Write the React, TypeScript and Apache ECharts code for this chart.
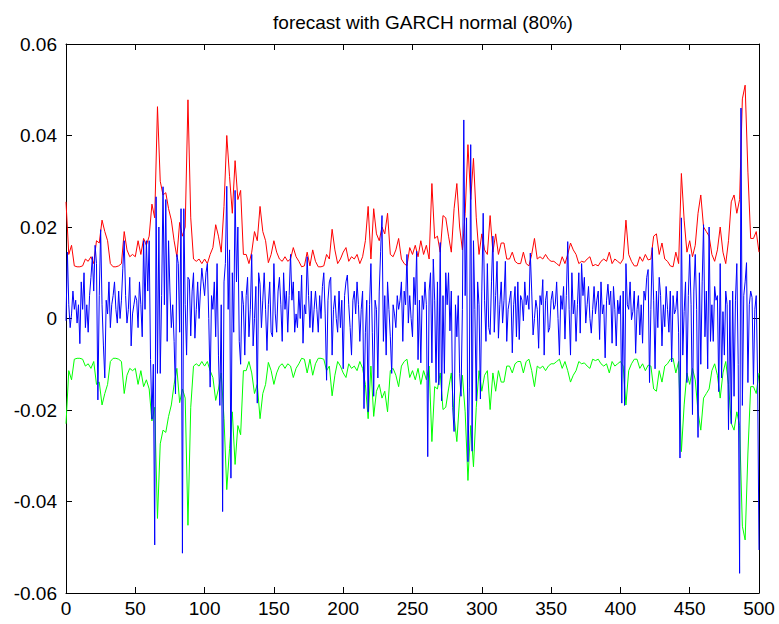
import React, { useEffect, useRef } from "react";
import * as echarts from "echarts";

// All values are in units of 0.001
// Upper 80% band (red), sampled at t = 0, 2, 4, ..., 500
const upperBand = [
  25.5, 14, 16, 11.5, 11.3, 11.3, 11.5, 13, 12.5, 13.5,
  12, 17, 16.5, 21.5, 19, 17, 12, 11.3, 11.3, 11.5,
  12, 19, 15, 13.5, 14, 13.5, 17, 14, 17.5, 16,
  18, 25, 22, 46.3, 30, 27, 27.5, 24, 21.5, 17,
  13.5, 21, 18, 20, 47.8, 22, 13, 12.5, 13, 12,
  13, 12, 14, 15.5, 20.5, 18, 14.5, 24.5, 40, 31,
  23, 34.5, 26, 28, 14, 14, 12, 14.5, 19, 17,
  24.5, 19, 17, 12.2, 14, 17, 14.5, 13, 12.5, 13.5,
  12.5, 13, 15.5, 13.5, 12.5, 11.3, 11.5, 14.5, 11.5, 15,
  12.5, 11.3, 11.3, 11.5, 14, 13, 19.5, 15, 12, 13,
  14.5, 15.5, 12.5, 13.5, 13, 14, 12, 13.5, 17, 24.5,
  13, 24, 18.5, 17, 20, 18.5, 23, 14, 13.5, 15,
  17.5, 13, 12, 11.5, 15.5, 14, 16, 13.5, 17, 14,
  16, 13, 29.5, 17.5, 18, 14.5, 22.5, 22, 18, 14.5,
  24, 29.5, 20, 15, 23, 38, 26, 35, 22, 14,
  18.5, 15, 14, 22.5, 14.5, 18.5, 14, 16.5, 16.5, 13,
  13, 14.5, 12.5, 12, 12, 14.5, 12, 11.5, 14, 17.5,
  13, 13.5, 13, 14, 13, 12.5, 12.5, 12, 11.5, 13.5,
  12, 14, 16.5, 15, 14, 12, 12.5, 12.3, 13, 13.5,
  11.5, 11.8, 11.5, 12.5, 13, 12.5, 14.5, 12, 13, 12.5,
  12, 13, 21.5, 14, 12.5, 11.5, 11.5, 13.5, 12.5, 14,
  12.8, 13, 18, 18.5, 14, 16.5, 13, 12.5, 11.5, 11.3,
  14.5, 12, 31.7, 21.5, 14.5, 17, 13.5, 16, 23, 27,
  20, 19, 18, 14, 12.5, 15, 20, 14.5, 12, 17,
  25.5, 27, 23, 26, 48, 51, 32, 17.5, 17.5, 19,
  14.5,
];

// Lower 80% band (green), sampled at t = 0, 2, 4, ..., 500
const lowerBand = [
  -23, -11.4, -13.4, -8.9, -8.7, -8.7, -8.9, -10.4, -9.9, -10.9,
  -9.4, -14.4, -13.9, -18.9, -16.4, -14.4, -9.4, -8.7, -8.7, -8.9,
  -9.4, -16.4, -12.4, -10.9, -11.4, -10.9, -14.4, -11.4, -14.9, -13.4,
  -15.4, -22.4, -19.4, -43.7, -27.4, -24.4, -24.9, -21.4, -18.9, -14.4,
  -10.9, -18.4, -15.4, -17.4, -45.2, -19.4, -10.4, -9.9, -10.4, -9.4,
  -10.4, -9.4, -11.4, -12.9, -17.9, -15.4, -11.9, -21.9, -37.4, -28.4,
  -20.4, -31.9, -23.4, -25.4, -11.4, -11.4, -9.4, -11.9, -16.4, -14.4,
  -21.9, -16.4, -14.4, -9.6, -11.4, -14.4, -11.9, -10.4, -9.9, -10.9,
  -9.9, -10.4, -12.9, -10.9, -9.9, -8.7, -8.9, -11.9, -8.9, -12.4,
  -9.9, -8.7, -8.7, -8.9, -11.4, -10.4, -16.9, -12.4, -9.4, -10.4,
  -11.9, -12.9, -9.9, -10.9, -10.4, -11.4, -9.4, -10.9, -14.4, -21.9,
  -10.4, -21.4, -15.9, -14.4, -17.4, -15.9, -20.4, -11.4, -10.9, -12.4,
  -14.9, -10.4, -9.4, -8.9, -12.9, -11.4, -13.4, -10.9, -14.4, -11.4,
  -13.4, -10.4, -26.9, -14.9, -15.4, -11.9, -19.9, -19.4, -15.4, -11.9,
  -21.4, -26.9, -17.4, -12.4, -20.4, -35.4, -23.4, -32.4, -19.4, -11.4,
  -15.9, -12.4, -11.4, -19.9, -11.9, -15.9, -11.4, -13.9, -13.9, -10.4,
  -10.4, -11.9, -9.9, -9.4, -9.4, -11.9, -9.4, -8.9, -11.4, -14.9,
  -10.4, -10.9, -10.4, -11.4, -10.4, -9.9, -9.9, -9.4, -8.9, -10.9,
  -9.4, -11.4, -13.9, -12.4, -11.4, -9.4, -9.9, -9.7, -10.4, -10.9,
  -8.9, -9.2, -8.9, -9.9, -10.4, -9.9, -11.9, -9.4, -10.4, -9.9,
  -9.4, -10.4, -18.9, -11.4, -9.9, -8.9, -8.9, -10.9, -9.9, -11.4,
  -10.2, -10.4, -15.4, -15.9, -11.4, -13.9, -10.4, -9.9, -8.9, -8.7,
  -11.9, -9.4, -29.1, -18.9, -11.9, -14.4, -10.9, -13.4, -20.4, -24.4,
  -17.4, -16.4, -15.4, -11.4, -9.9, -12.4, -17.4, -11.9, -9.4, -14.4,
  -22.9, -24.4, -20.4, -23.4, -45.4, -48.4, -29.4, -14.9, -14.9, -16.4,
  -11.9,
];

// Observed returns (blue), t = 0, 1, 2, ..., 500
const returns = [
  -0.5, 14.5, 3, -2, 1, 6, 2, 4, -1, 3,
  -5.5, 8, 2, 10, -2, 3, -3, 5, 9, 13.5,
  6, 16, 12, -17.8, 5, 19.4, 3, -6, -13, 4,
  1, 8, -2, 3, 5, 8, 2, -1, 6, 0,
  4, 11, 17, 5, -1, 2, 9, -6, 1, 3,
  5, 4, -2, 8, 3, -4, 17, 2, 17, 6,
  17, -9, -22, -10, -49.5, 26.6, -12, 20, -12, 5,
  28.8, 3, 26, -5, 17, 6, -2, 3, -5, -16.5,
  14, 12, -3, 24, -51.3, 24, 3, -8, 9, 8.5,
  -3.8, 6, 10, -4.3, 2, 8, 0, 6, 11, 8,
  5, 10, 12, 0, -15, 5, 2, 8, -4, 12,
  -8, -19, 3, -42.2, 8, 12, 28.9, 2, 15, -34.9,
  10, -3, 28, 8, 20, -5, -10, 6, 3, -8,
  5, 9, -4, 2, 14, -6, 0, 7, -18.5, 10,
  7.5, -2, 4, 10, 2, -7, 3, 8, -3, -4,
  12, 1, -3, 6, 9, 3, -5, 10, 2, 6,
  -3, 5, 14, 4, 8, -3, 1, -2, 6, 0,
  9.5, -5.4, 3, 1, 13.5, 5, -2, 6, -3, 2,
  6, 2, -3, 5, 0, 7, 10, 1, -13.5, 4,
  8, 9, -8, 2, 5, 0, -3, 6, -2, 4,
  -11, 5, 8, 9.5, 3, -2, -8, 4, 6, 1,
  8, 3, -5, 2, 6, -19.7, -3, 4, -20.4, 3,
  12, -3, -17, 4, 2, -13, 6, 14.7, 22.5, -5,
  5, -8, 8, 2, -4, -12, 3, 1, -2, 5,
  2, 4, 8, -5, 6, 3, 14, -1, 5, 0,
  -4, 9, 3, 14.7, -9, 4, -9.7, 5, 2, 8,
  3, -30.2, 6, 10, -9.7, 13, 4, -14, 8, -14.5,
  16.6, -18, 5, -12, 10, 3, 10, -2.7, 6, -19.4,
  -24.7, 3, -4, 5, -12, -17, 2, 43.4, 5, 22,
  -31.3, -15, 38, -29, 17, 2, -18, 8, 3, -17.6,
  6, 23, 4, -5, 12, -2, -3.5, 8, 18, -3,
  5, 12.5, -4.3, 3, 8, -1, 4, 12.5, -5, 2,
  4, 6, -7.5, 3, 7, -4, 8, -4.6, 5, 4,
  -0.5, 8, 3, 5, 2, 14.3, 6, -3.6, 0, 4,
  2, -6.5, 5, 3, 8.5, -8, 4, 6, -3, -2,
  4, 6, 2, 3, 8, 0, -8, 5, 2, 7,
  -4.5, 5, 16.8, 2, -8, 10, 1, 4, -5, 3,
  10, -3.2, 12, 5, 9, -1, 3, 7, 0, -3.2,
  2, 7, 1, 4, 6, -4.6, 8, 1, 3, -8.6,
  4, 7.5, 3, 6, -5.4, 7, 2, -6, 4, 1,
  5, -18.5, 6, -19, 12, 3, 2, 8, -0.3, 1.5,
  6, -7.6, 2, 5, -3.6, 3, -5.4, 6, 4, 9,
  10.7, -14, 2, 15.5, 4, -11, 6, -2, 9, 5,
  -6, 3, -1.8, 7, 2, -3, 6, -9.5, 5, 1,
  2, 6, -3, -30.5, 22, -8, 1.5, 8, -14, 5,
  14, 3, -21, 6, 14, 2, -26, 10, -10, 8,
  20.5, -4, 6, -11, 20, -5, 3, -5, 7, 4,
  5, -16, 12, -13, 1.5, -8, 6, 3, -24.3, 4,
  -23, 6, -17, 4, 12, -10, -55.7, 46, -19, 5,
  8, 12.2, -14, 3, 6, 4.6, -14.4, 2, 5, -13, -50.6,
];

const BAND_STEP = 2;
const TITLE = "forecast with GARCH normal (80%)";
const Y_TICKS = [-0.06, -0.04, -0.02, 0, 0.02, 0.04, 0.06];

const FONT = "'Liberation Sans', Arial, Helvetica, sans-serif";
const FS = 19;

export default function App() {
  const ref = useRef<HTMLDivElement>(null);

  useEffect(() => {
    if (!ref.current) return;
    const chart = echarts.init(ref.current, null, { renderer: "svg" });

    const redData = upperBand.map((v, i) => [i * BAND_STEP, v / 1000]);
    const greenData = lowerBand.map((v, i) => [i * BAND_STEP, v / 1000]);
    const blueData = returns.map((v, i) => [i, v / 1000]);

    const axisLine = { show: true, onZero: false, lineStyle: { color: "#000", width: 1 } };
    const axisTick = { show: true, inside: true, length: 6, lineStyle: { color: "#000", width: 1 } };
    const labelStyle = { color: "#000", fontSize: FS, fontFamily: FONT };

    const yFmt = (v: number) => {
      if (Math.abs(v) < 1e-9) return "0";
      return v.toFixed(2);
    };

    chart.setOption({
      animation: false,
      backgroundColor: "#fff",
      grid: { left: 66, right: 20, top: 44, bottom: 31, show: false, containLabel: false },
      xAxis: [
        {
          type: "value", min: 0, max: 500, interval: 50, position: "bottom",
          axisLine, axisTick,
          axisLabel: { ...labelStyle, margin: 6 },
          splitLine: { show: false },
        },
        {
          type: "value", min: 0, max: 500, interval: 50, position: "top",
          axisLine, axisTick,
          axisLabel: { show: false },
          splitLine: { show: false },
        },
      ],
      yAxis: [
        {
          type: "value", min: Y_TICKS[0], max: Y_TICKS[Y_TICKS.length - 1], interval: 0.02, position: "left",
          axisLine, axisTick,
          axisLabel: { ...labelStyle, margin: 9, formatter: yFmt },
          splitLine: { show: false },
        },
        {
          type: "value", min: Y_TICKS[0], max: Y_TICKS[Y_TICKS.length - 1], interval: 0.02, position: "right",
          axisLine, axisTick,
          axisLabel: { show: false },
          splitLine: { show: false },
        },
      ],
      graphic: [
        {
          type: "text",
          x: 423,
          y: 22,
          style: {
            text: TITLE,
            fill: "#000",
            font: `${FS}px ${FONT}`,
            textAlign: "center",
            textVerticalAlign: "middle",
          },
        },
      ],
      series: [
        {
          name: "upper", type: "line", data: redData, xAxisIndex: 0, yAxisIndex: 0,
          showSymbol: false, symbol: "none", silent: true,
          lineStyle: { color: "#ff0000", width: 1 },
        },
        {
          name: "lower", type: "line", data: greenData, xAxisIndex: 0, yAxisIndex: 0,
          showSymbol: false, symbol: "none", silent: true,
          lineStyle: { color: "#00ff00", width: 1 },
        },
        {
          name: "returns", type: "line", data: blueData, xAxisIndex: 0, yAxisIndex: 0,
          showSymbol: false, symbol: "none", silent: true,
          lineStyle: { color: "#0000ff", width: 1 },
        },
      ],
    });

    return () => chart.dispose();
  }, []);

  return (
    <div
      ref={ref}
      style={{ position: "fixed", left: 0, top: 0, width: 779, height: 624, background: "#fff" }}
    />
  );
}
